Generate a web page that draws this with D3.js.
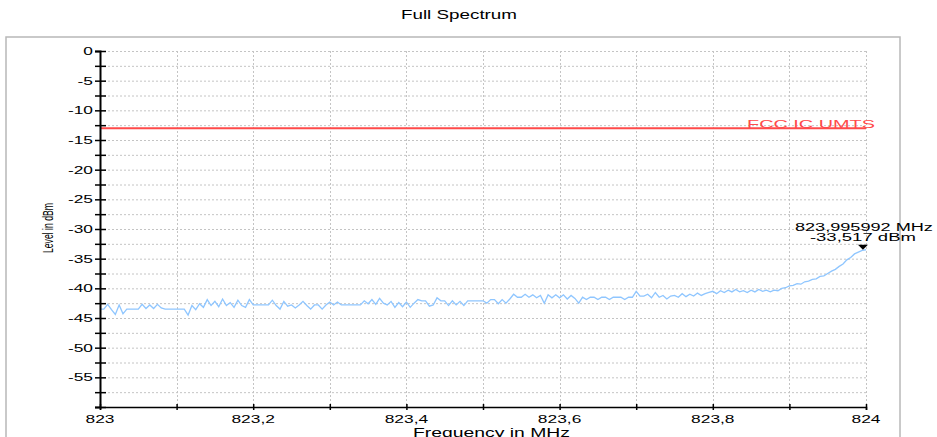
<!DOCTYPE html>
<html><head><meta charset="utf-8">
<script src="https://cdn.jsdelivr.net/npm/d3@7"></script>
<style>
html,body{margin:0;padding:0;background:#fff;}
svg{display:block;font-family:"Liberation Sans",Arial,sans-serif;}
</style></head>
<body>
<svg id="c" width="937" height="437"></svg>
<script>
// ---- data ----
const title = "Full Spectrum";
const xLabel = "Frequency in MHz";
const yLabel = "Level in dBm";
const freqStart = 823.0;
const freqStep = 0.005; // MHz between trace points
const level = [
  -43.5,-43.5,-42.7,-43.6,-44.4,-42.8,-44.3,-43.5,-43.5,-43.5,
  -43.5,-42.7,-43.4,-42.8,-43.4,-42.7,-43.3,-43.5,-43.5,-43.5,
  -43.5,-43.5,-43.5,-44.5,-42.9,-43.6,-42.6,-43.2,-41.9,-42.9,
  -42.2,-43.1,-41.8,-42.9,-42.4,-43.2,-42.0,-42.9,-43.2,-41.9,
  -42.8,-42.8,-42.8,-42.8,-42.8,-42.0,-42.9,-43.5,-42.2,-43.0,
  -42.8,-43.3,-42.8,-42.2,-42.9,-43.5,-42.8,-42.8,-43.5,-42.8,
  -42.3,-42.8,-42.3,-42.8,-42.8,-42.8,-42.8,-42.8,-42.8,-42.1,
  -42.6,-41.9,-42.7,-41.7,-42.5,-42.8,-42.2,-43.2,-42.4,-43.1,
  -42.3,-43.2,-42.5,-41.9,-42.1,-42.1,-43.0,-42.8,-41.6,-42.1,
  -42.1,-42.9,-42.1,-42.8,-42.2,-42.9,-42.1,-42.1,-42.1,-42.1,
  -42.1,-42.5,-41.9,-41.9,-42.6,-41.9,-42.5,-41.8,-41.0,-41.5,
  -41.5,-41.0,-41.5,-41.1,-41.6,-41.2,-42.5,-41.1,-41.6,-41.1,
  -41.6,-41.1,-41.8,-41.2,-41.7,-42.5,-41.5,-41.9,-41.5,-41.5,
  -41.9,-41.5,-41.5,-41.9,-41.5,-41.5,-41.5,-41.9,-41.5,-41.5,
  -40.5,-41.3,-41.3,-41.0,-41.6,-40.7,-41.5,-41.2,-41.8,-41.3,
  -41.2,-41.5,-40.9,-41.4,-41.0,-41.3,-40.8,-41.2,-40.9,-40.7,
  -40.5,-40.9,-40.4,-40.7,-40.3,-40.6,-40.2,-40.6,-40.4,-40.7,
  -40.3,-40.6,-40.2,-40.5,-40.3,-40.6,-40.3,-40.4,-40.0,-39.9,
  -39.6,-39.5,-39.2,-39.3,-38.9,-38.8,-38.5,-38.4,-38.0,-37.9,
  -37.5,-37.1,-36.8,-36.3,-35.9,-35.2,-34.8,-34.2,-33.9,-33.6,
  -33.5
];
const limitName = "FCC IC UMTS";
const limitLevel = -13;
const markerFreq = 823.995992;
const markerLevel = -33.517;
const xTicks = [823, 823.2, 823.4, 823.6, 823.8, 824];
const xMinor = [823.1, 823.3, 823.5, 823.7, 823.9];
const yTicks = [0, -5, -10, -15, -20, -25, -30, -35, -40, -45, -50, -55];
const yMinor = [-2.5, -7.5, -12.5, -17.5, -22.5, -27.5, -32.5, -37.5, -42.5, -47.5, -52.5, -57.5];

// ---- chart ----
const svg = d3.select("#c");
const loc = d3.formatLocale({decimal: ",", thousands: ".", grouping: [3], currency: ["", ""]});
const x = d3.scaleLinear().domain([823, 824]).range([100, 866]);
const y = d3.scaleLinear().domain([0, -60]).range([51, 407]);

// frame
svg.append("rect").attr("x", 6).attr("y", 37).attr("width", 894).attr("height", 420)
  .attr("fill", "none").attr("stroke", "#b8b8b8").attr("stroke-width", 1.5);

// title
svg.append("text").attr("x", 459).attr("y", 19).attr("text-anchor", "middle")
  .attr("font-size", 12).attr("textLength", 116).attr("lengthAdjust", "spacingAndGlyphs")
  .attr("fill", "#000").text(title);

// grid
const grid = svg.append("g").attr("stroke", "#c4c4c4").attr("stroke-width", 1).attr("stroke-dasharray", "2,2");
[...yTicks, ...yMinor].forEach(v => {
  grid.append("line").attr("x1", x(823)).attr("x2", x(824)).attr("y1", y(v) + 0.5).attr("y2", y(v) + 0.5);
});
[...xTicks, ...xMinor].filter(v => v > 823).forEach(v => {
  grid.append("line").attr("x1", Math.round(x(v)) + 0.5).attr("x2", Math.round(x(v)) + 0.5).attr("y1", y(0)).attr("y2", y(-60));
});

// limit line
svg.append("line").attr("x1", x(823)).attr("x2", x(824)).attr("y1", y(limitLevel)).attr("y2", y(limitLevel))
  .attr("stroke", "#ff4a4a").attr("stroke-width", 2);
svg.append("text").attr("x", 747).attr("y", y(limitLevel) - 0.5).attr("font-size", 10.5)
  .attr("textLength", 128).attr("lengthAdjust", "spacingAndGlyphs")
  .attr("fill", "#ff4a4a").text(limitName);

// trace
const pts = level.map((v, i) => [freqStart + i * freqStep, v]);
svg.append("path").datum(pts)
  .attr("d", d3.line().x(d => x(d[0])).y(d => y(d[1])))
  .attr("fill", "none").attr("stroke", "#8fc6ff").attr("stroke-width", 1.3);

// y axis
const yAx = svg.append("g").attr("transform", "translate(100,0)")
  .call(d3.axisLeft(y).tickValues([...yTicks, ...yMinor, -60]).tickSize(5).tickFormat(""));
yAx.selectAll(".tick line").attr("x2", -5).attr("x1", 6).attr("stroke", "#000").attr("stroke-width", 1.5);
yAx.select(".domain").attr("stroke", "#000").attr("stroke-width", 2);
const yl = svg.append("g");
yTicks.forEach(v => {
  yl.append("g").attr("transform", `translate(93,${y(v) + 4})`)
    .append("text").attr("text-anchor", "end").attr("font-size", 10.5)
    .attr("transform", "scale(1.65,1)").text(loc.format("d")(v).replace("−", "-"));
});

// x axis
const xAx = svg.append("g").attr("transform", `translate(0,${y(-60)})`)
  .call(d3.axisBottom(x).tickValues([...xTicks, ...xMinor]).tickSize(3).tickFormat(""));
xAx.selectAll(".tick line").attr("y1", -3).attr("y2", 3).attr("stroke", "#000").attr("stroke-width", 1.5);
xAx.select(".domain").attr("stroke", "#000").attr("stroke-width", 1.5);
xTicks.forEach(v => {
  svg.append("g").attr("transform", `translate(${x(v)},${y(-60) + 16})`)
    .append("text").attr("text-anchor", "middle").attr("font-size", 11)
    .attr("transform", "scale(1.58,1)").text(loc.format("~g")(v));
});

// axis titles
svg.append("text").attr("x", 413).attr("y", 437).attr("font-size", 12)
  .attr("textLength", 157).attr("lengthAdjust", "spacingAndGlyphs").text(xLabel);
svg.append("text").attr("transform", "translate(52.5,228) rotate(-90)").attr("text-anchor", "middle")
  .attr("font-size", 15).attr("textLength", 50).attr("lengthAdjust", "spacingAndGlyphs").text(yLabel);

// marker
const mx = x(markerFreq), my = y(markerLevel);
svg.append("path").attr("d", `M${mx - 5},${my - 5}L${mx + 5},${my - 5}L${mx},${my}Z`).attr("fill", "#000");
svg.append("text").attr("x", mx + 1).attr("y", my - 19).attr("text-anchor", "middle").attr("font-size", 10)
  .attr("textLength", 138).attr("lengthAdjust", "spacingAndGlyphs")
  .text(loc.format(".6f")(markerFreq) + " MHz");
svg.append("text").attr("x", mx).attr("y", my - 9).attr("text-anchor", "middle").attr("font-size", 10)
  .attr("textLength", 106).attr("lengthAdjust", "spacingAndGlyphs")
  .text(loc.format(".3f")(markerLevel).replace("−", "-") + " dBm");
</script>
</body></html>
